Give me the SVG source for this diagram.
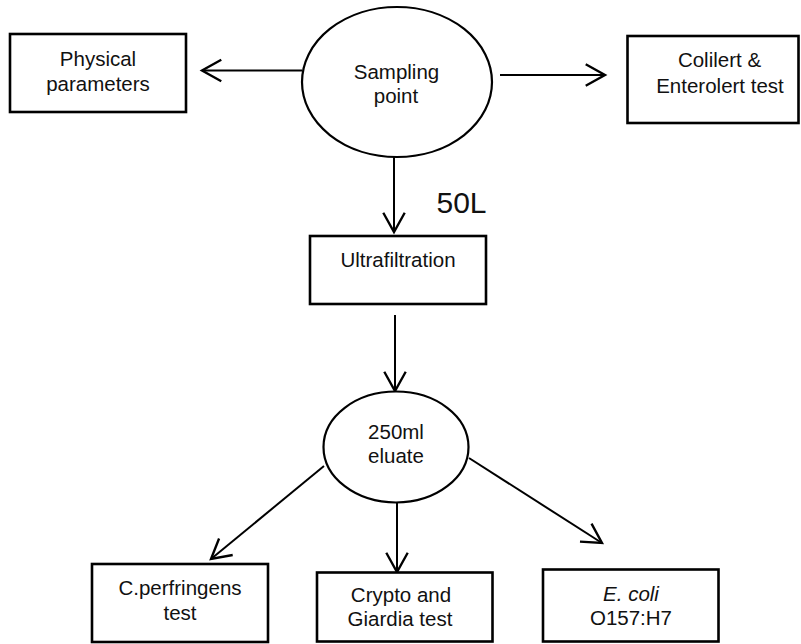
<svg xmlns="http://www.w3.org/2000/svg" width="801" height="644" viewBox="0 0 801 644">
  <style>
    .box { fill: #ffffff; stroke: #000000; stroke-width: 2.6; }
    .oval { fill: #ffffff; stroke: #000000; stroke-width: 2.2; }
    .edge { fill: none; stroke: #000000; stroke-width: 2; marker-end: url(#open); }
    text { font-family: "Liberation Sans", Arial, sans-serif; font-size: 20.5px; fill: #111111; text-anchor: middle; }
    .big { font-size: 30px; text-anchor: start; }
    .it { font-style: italic; }
  </style>
  <defs>
    <marker id="open" markerUnits="userSpaceOnUse" markerWidth="30" markerHeight="30" viewBox="-22 -14 26 28" refX="0" refY="0" orient="auto">
      <path d="M-18,-10 L0,0 L-18,10" fill="none" stroke="#000000" stroke-width="2.2" stroke-linejoin="miter"/>
    </marker>
  </defs>
  <rect width="801" height="644" fill="#ffffff"/>

  <!-- connectors -->
  <g id="connectors">
    <line class="edge" x1="302" y1="70.5" x2="202" y2="70.5"/>
    <line class="edge" x1="500" y1="75" x2="605" y2="75"/>
    <line class="edge" x1="394" y1="157" x2="394" y2="232"/>
    <line class="edge" x1="395" y1="315" x2="395" y2="391"/>
    <line class="edge" x1="324" y1="466" x2="211" y2="559"/>
    <line class="edge" x1="397" y1="502" x2="397" y2="572"/>
    <line class="edge" x1="469" y1="458" x2="602" y2="543"/>
    <text class="big" x="436.5" y="212.5">50L</text>
  </g>

  <!-- nodes -->
  <g id="sampling">
    <ellipse class="oval" cx="397" cy="82" rx="95" ry="75"/>
    <text x="396.5" y="78.5">Sampling</text>
    <text x="396" y="102.5">point</text>
  </g>
  <g id="physical">
    <rect class="box" x="10" y="34" width="176" height="78"/>
    <text x="98" y="66">Physical</text>
    <text x="98" y="90.5">parameters</text>
  </g>
  <g id="colilert">
    <rect class="box" x="627.5" y="36" width="171" height="87"/>
    <text x="719.5" y="67">Colilert &amp;</text>
    <text x="720" y="93">Enterolert test</text>
  </g>
  <g id="ultrafiltration">
    <rect class="box" x="310" y="236" width="176" height="68"/>
    <text x="398" y="267">Ultrafiltration</text>
  </g>
  <g id="eluate">
    <ellipse class="oval" cx="396" cy="447" rx="72.5" ry="55.5"/>
    <text x="396" y="439">250ml</text>
    <text x="396" y="463">eluate</text>
  </g>
  <g id="perfringens">
    <rect class="box" x="92" y="564" width="176" height="78"/>
    <text x="180" y="595">C.perfringens</text>
    <text x="180" y="620">test</text>
  </g>
  <g id="crypto">
    <rect class="box" x="317" y="572.5" width="175.5" height="69"/>
    <text x="401" y="601.5">Crypto and</text>
    <text x="400" y="625.5">Giardia test</text>
  </g>
  <g id="ecoli">
    <rect class="box" x="543" y="569.5" width="175.5" height="72"/>
    <text class="it" x="631" y="601">E. coli</text>
    <text x="631" y="625">O157:H7</text>
  </g>
</svg>
